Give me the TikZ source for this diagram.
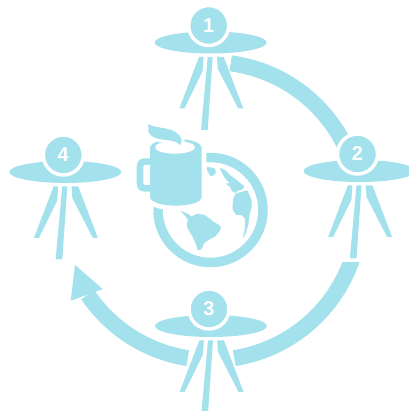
\documentclass[tikz,border=0pt]{standalone}
\usepackage{fontspec}
\setmainfont{Liberation Sans}
\definecolor{skyblue}{HTML}{A3E1EC}
\tikzset{
  numlabel/.style={text=white,font=\bfseries\fontsize{15}{15}\selectfont,inner sep=0pt},
  ringarc/.style={draw=skyblue,line width=12pt,line cap=butt},
  halo/.style={draw=white,line width=2.6pt,fill=skyblue,line join=round},
  land/.style={fill=skyblue,rounded corners=0.8pt},
  cutout/.style={fill=skyblue,preaction={draw=white,line width=#1}},
  pics/saucer/.style={code={
    \fill[skyblue] (2,-17) ellipse [x radius=56,y radius=11];
    \filldraw[halo] (0,0) circle (20);
    \fill[skyblue] (-9.7,-31.5) -- (-5.2,-31.5) -- (-6,-45.5) -- (-24.4,-83) -- (-29.4,-83) -- cycle;
    \fill[skyblue] (-1,-31.5) -- (4,-31.5) -- (-1,-104.5) -- (-7.7,-104.5) -- cycle;
    \fill[skyblue] (8.3,-31.5) -- (15,-31.5) -- (34.6,-83) -- (29.6,-83) -- (9,-43) -- cycle;
  }},
}
\begin{document}
\begin{tikzpicture}[x=0.75pt,y=0.75pt,line cap=round,line join=round]
  \useasboundingbox (0,0) rectangle (409,411);
  % big ring
  \coordinate (hub) at (211,200);
  \draw[ringarc] (hub) ++(82.4:149) arc[start angle=82.4,end angle=20,radius=149];
  \begin{scope}
    \clip (200,0) rectangle (409,148.3);
    \draw[ringarc] (hub) ++(-10:149) arc[start angle=-10,end angle=-81,radius=149];
  \end{scope}
  \draw[ringarc] (hub) ++(-99:149) arc[start angle=-99,end angle=-145.8,radius=149];
  \fill[skyblue] (102.7,122) -- (75,146) -- (70.7,110.3) -- cycle;
  % saucers
  \pic at (208.7,385.5) {saucer};
  \pic at (357.5,257) {saucer};
  \pic at (209,102) {saucer};
  \pic at (63.3,256) {saucer};
  \node[numlabel] (one) at (208.7,385.5) {1};
  \node[numlabel] (two) at (357.5,257) {2};
  \node[numlabel] (three) at (209,102) {3};
  \node[numlabel] (four) at (63.3,256) {4};
  % globe
  \draw[skyblue,line width=7.1pt] (210.5,201) circle (52.5);
  \begin{scope}[shift={(130,296)},x=0.25pt,y=-0.25pt]
    \fill[land] (150,287) -- (175,297) -- (185,305) -- (200,296) -- (225,300) -- (250,320) -- (272,333) -- (272,345) -- (255,365) -- (235,375) -- (222,385) -- (215,403) -- (203,407) -- (197,385) -- (185,360) -- (172,340) -- (170,325) -- (175,315) -- (165,302) -- cycle;
    \fill[land] (310,250) -- (318,235) -- (330,232) -- (352,225) -- (358,240) -- (365,255) -- (365,275) -- (358,300) -- (355,330) -- (345,360) -- (338,370) -- (345,340) -- (345,310) -- (335,300) -- (318,300) -- (308,285) -- (308,265) -- cycle;
    \fill[land] (230,155) -- (255,160) -- (258,175) -- (243,185) -- (230,165) -- cycle;
    \fill[land] (268,158) -- (285,165) -- (300,180) -- (320,195) -- (345,215) -- (335,225) -- (320,228) -- (318,235) -- (305,228) -- (300,215) -- (285,205) -- (300,205) -- (285,190) -- cycle;
    % mug
    \path[cutout=7pt] (60,100) .. controls (60,62) and (215,62) .. (215,100) -- (215,245) .. controls (215,281) and (60,281) .. (60,245) -- (60,230) -- (45,230) .. controls (28,230) and (20,220) .. (20,205) -- (20,155) .. controls (20,140) and (28,130) .. (45,130) -- (60,130) -- cycle;
    \fill[white,rounded corners=1.5pt] (60,150) -- (40,150) -- (40,210) -- (60,210);
    \fill[white] (135,97) ellipse [x radius=60,y radius=19];
    \path[cutout=4.5pt] (55,27) .. controls (80,45) and (140,30) .. (155,75) -- (152,90) .. controls (125,65) and (70,85) .. (55,50) -- cycle;
  \end{scope}
\end{tikzpicture}
\end{document}
